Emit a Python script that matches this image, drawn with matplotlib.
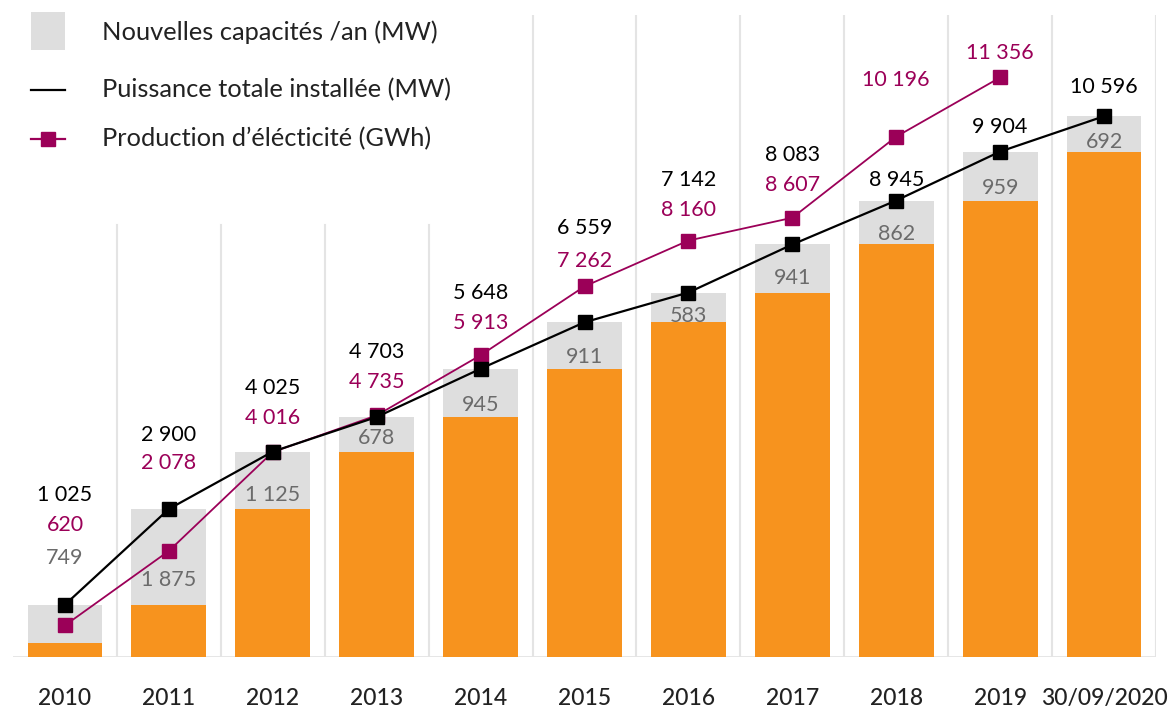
import matplotlib.pyplot as plt
from matplotlib.patches import Rectangle
from matplotlib.lines import Line2D

plt.rcParams['font.family'] = ['Lato', 'DejaVu Sans']

years = ["2010", "2011", "2012", "2013", "2014", "2015", "2016", "2017", "2018", "2019", "30/09/2020"]
total_mw = [1025, 2900, 4025, 4703, 5648, 6559, 7142, 8083, 8945, 9904, 10596]
new_mw = [749, 1875, 1125, 678, 945, 911, 583, 941, 862, 959, 692]
prod_gwh = [620, 2078, 4016, 4735, 5913, 7262, 8160, 8607, 10196, 11356]

# label heights (data units), hand placed like the original
total_lbl_y = [3175, 4350, 5270, 5980, 7130, 8410, 9350, 9840, 9350, 10390, 11170]
prod_lbl_y = [2590, 3800, 4680, 5390, 6550, 7760, 8760, 9250, 11310, 11840]
new_lbl_y = [1940, 1510, 3175, 4290, 4940, 5880, 6680, 7430, 8290, 9190, 10090]

ORANGE = "#F7931E"
GREY = "#DEDEDE"
MAGENTA = "#9B0058"
LABEL_GREY = "#6B6B6B"

def fmt(v):
    return f"{v:,}".replace(",", " ")

fig = plt.figure(figsize=(11.73, 7.08), dpi=100)
ax = fig.add_axes([13 / 1173, 51 / 708, 1143 / 1173, 642 / 708])

x = list(range(len(years)))
base = [t - n for t, n in zip(total_mw, new_mw)]
ax.bar(x, base, width=0.72, color=ORANGE, zorder=2)
ax.bar(x, new_mw, bottom=base, width=0.72, color=GREY, zorder=2)

ax.plot(x, total_mw, color="black", lw=1.6, marker="s", ms=9.5, zorder=4)
ax.plot(x[:len(prod_gwh)], prod_gwh, color=MAGENTA, lw=1.3, marker="s", ms=9.5, zorder=3)

ax.set_xlim(-0.5, len(years) - 0.5)
ax.set_ylim(0, 12580)

# vertical separators; the first four stop below the legend
for i in range(len(years)):
    top = 0.673 if i < 4 else 1.0
    ax.axvline(i + 0.5, ymin=0, ymax=top, color="#E4E4E4", lw=1.5, zorder=1)
ax.axhline(0, color="#E4E4E4", lw=2, zorder=1)

for i in x:
    ax.text(i, total_lbl_y[i], fmt(total_mw[i]), ha="center", va="center", fontsize=15.5, color="black")
    ax.text(i, new_lbl_y[i], fmt(new_mw[i]), ha="center", va="center", fontsize=15.5, color=LABEL_GREY)
for i in range(len(prod_gwh)):
    ax.text(i, prod_lbl_y[i], fmt(prod_gwh[i]), ha="center", va="center", fontsize=15.5, color=MAGENTA)

for s in ax.spines.values():
    s.set_visible(False)
ax.set_yticks([])
ax.set_xticks(x)
ax.set_xticklabels(years, fontsize=16.5, color="#222222", fontweight="medium")
ax.tick_params(axis="x", length=0, pad=22)

# legend drawn by hand
fig.add_artist(Rectangle((31 / 1173, 1 - 50 / 708), 34 / 1173, 38 / 708,
                         transform=fig.transFigure, color=GREY, lw=0))
fig.add_artist(Line2D([31 / 1173, 65 / 1173], [1 - 90 / 708] * 2,
                      transform=fig.transFigure, color="black", lw=1.6))
fig.add_artist(Line2D([31 / 1173, 65 / 1173], [1 - 139 / 708] * 2,
                      transform=fig.transFigure, color=MAGENTA, lw=1.6))
fig.add_artist(Line2D([48 / 1173], [1 - 139 / 708], transform=fig.transFigure,
                      color=MAGENTA, marker="s", ms=9.5, lw=0))
legend_txt = ["Nouvelles capacités /an (MW)", "Puissance totale installée (MW)",
              "Production d’élécticité (GWh)"]
for txt, yy in zip(legend_txt, [32, 90, 139]):
    fig.text(102 / 1173, 1 - yy / 708, txt, ha="left", va="center", fontsize=18.3, color="#222222")

fig.savefig("out.png", dpi=100)
